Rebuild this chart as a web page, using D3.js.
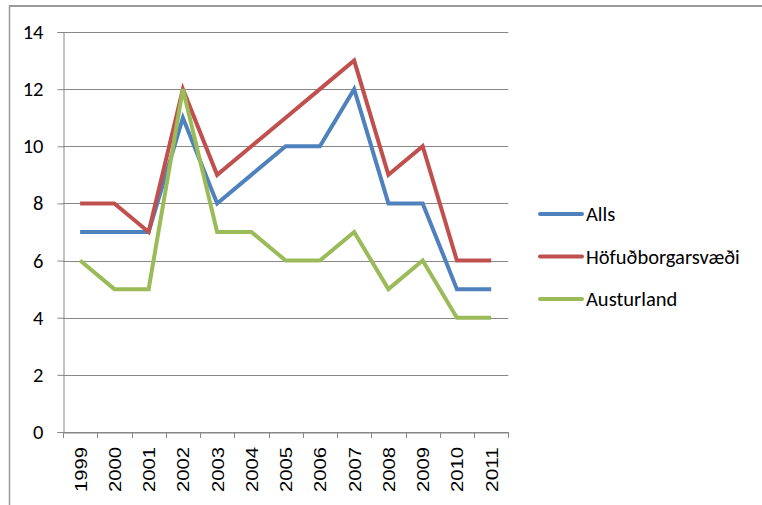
<!DOCTYPE html>
<html><head><meta charset="utf-8">
<script src="https://cdn.jsdelivr.net/npm/d3@7"></script>
<style>body{margin:0;background:#fff;} svg{display:block;}</style>
</head><body>
<script>
const years = ["1999","2000","2001","2002","2003","2004","2005","2006","2007","2008","2009","2010","2011"];
const alls = [7,7,7,11,8,9,10,10,12,8,8,5,5];
const hofud = [8,8,7,12,9,10,11,12,13,9,10,6,6];
const austur = [6,5,5,12,7,7,6,6,7,5,6,4,4];
const seriesNames = ["Alls","Höfuðborgarsvæði","Austurland"];
const yTicks = [0,2,4,6,8,10,12,14];
const colors = ["#4F81BD","#C0504D","#9BBB59"];
const series = [alls, hofud, austur];

const W = 762, H = 505;
const svg = d3.select("body").append("svg").attr("width", W).attr("height", H);
const font = "Carlito, 'Open Sans', sans-serif";

// outer frame (top and left edges visible)
svg.append("line").attr("x1",9).attr("x2",W).attr("y1",6).attr("y2",6).attr("stroke","#9a9a9a").attr("stroke-width",2);
svg.append("line").attr("x1",9.5).attr("x2",9.5).attr("y1",5).attr("y2",H).attr("stroke","#9a9a9a").attr("stroke-width",1.5);

const x = d3.scaleBand().domain(years).range([63, 508.3]).padding(0);
const y = d3.scaleLinear().domain([0,14]).range([432, 32]);

// gridlines
svg.append("g").selectAll("line").data(yTicks).join("line")
  .attr("x1", 63).attr("x2", 508.3)
  .attr("y1", d => Math.round(y(d))+0.5).attr("y2", d => Math.round(y(d))+0.5)
  .attr("stroke", "#878787").attr("stroke-width", 1);

// y axis
const yAxis = svg.append("g").attr("transform","translate(63.5,0)")
  .call(d3.axisLeft(y).tickValues(yTicks).tickSize(6).tickPadding(14).tickFormat(d3.format("d")));
yAxis.select(".domain").attr("stroke","#878787");
yAxis.selectAll(".tick line").attr("stroke","#878787");
yAxis.selectAll(".tick text").attr("font-family", font).attr("font-size", 20.5).attr("fill","#000");

// x axis
const xAxis = svg.append("g").attr("transform","translate(0,432.5)")
  .call(d3.axisBottom(x).tickSize(0).tickFormat(""));
xAxis.select(".domain").attr("stroke","#878787");
const bounds = years.map(d => x(d)).concat([x.range()[1]]);
svg.append("g").selectAll("line").data(bounds).join("line")
  .attr("x1", d => Math.round(d)+0.5).attr("x2", d => Math.round(d)+0.5)
  .attr("y1", 432).attr("y2", 438).attr("stroke","#878787");

svg.append("g").selectAll("text").data(years).join("text")
  .attr("transform", d => `translate(${x(d)+x.bandwidth()/2+6.5},447) rotate(-90)`)
  .attr("text-anchor","end")
  .attr("font-family","'Liberation Sans', Arial, sans-serif").attr("font-size", 17)
  .attr("textLength", 45).attr("lengthAdjust","spacingAndGlyphs")
  .attr("fill","#000")
  .text(d => d);

// lines
const line = d3.line().x((d,i) => x(years[i]) + x.bandwidth()/2).y(d => y(d));
svg.append("g").selectAll("path").data(series).join("path")
  .attr("d", d => line(d)).attr("fill","none")
  .attr("stroke", (d,i) => colors[i]).attr("stroke-width", 4)
  .attr("stroke-linejoin","miter").attr("stroke-linecap","butt");

// legend
const leg = svg.append("g").selectAll("g").data(seriesNames).join("g")
  .attr("transform", (d,i) => `translate(540,${214 + i*42.5})`);
leg.append("line").attr("x1",0).attr("x2",42).attr("y1",0).attr("y2",0)
  .attr("stroke",(d,i)=>colors[i]).attr("stroke-width",4).attr("stroke-linecap","round");
leg.append("text").attr("x",46).attr("y",0).attr("dy","0.35em")
  .attr("font-family", font).attr("font-size", 20.5).attr("fill","#000").text(d => d);
</script>
</body></html>
